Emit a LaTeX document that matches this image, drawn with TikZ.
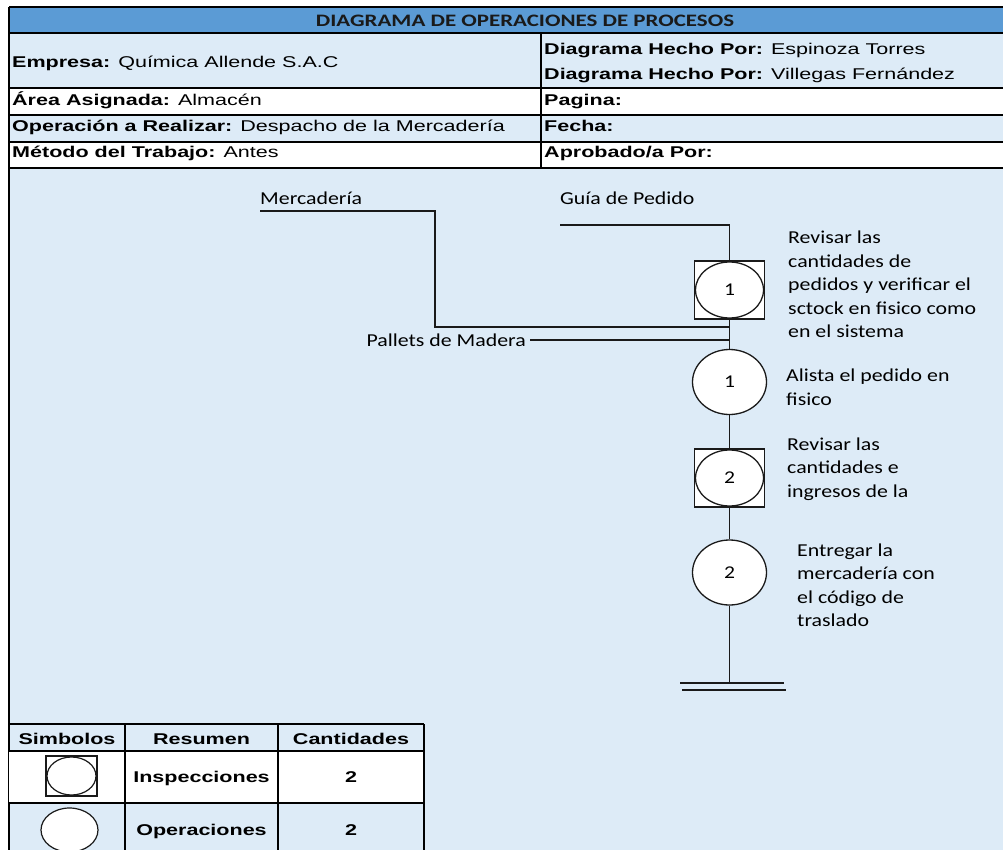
\documentclass[tikz,border=0pt]{standalone}
\usepackage{fontspec}
\setmainfont{Liberation Sans}
\newfontfamily\titlefont[FakeStretch=1.31]{Carlito}
\newfontfamily\cellfont[FakeStretch=1.38]{Liberation Sans}
\newfontfamily\notefont[FakeStretch=1.2]{Carlito}
\usetikzlibrary{shapes.geometric}
\definecolor{hdrblue}{HTML}{5B9BD5}
\definecolor{paleblue}{HTML}{DDEBF7}
\definecolor{ink}{HTML}{1A1A1A}

\begin{document}
\begin{tikzpicture}[x=1pt,y=-1pt,
  grid/.style={line width=1.8pt,draw=black},
  celltext/.style={anchor=base west,inner sep=0pt,font=\cellfont\fontsize{15.6}{18}\selectfont},
  tabtext/.style={anchor=base,inner sep=0pt,font=\cellfont\fontsize{15.6}{18}\selectfont\bfseries},
  note/.style={inner sep=0pt,font=\notefont\fontsize{18.2}{23.5}\selectfont},
  block/.style={note,anchor=north west,align=left},
  opnode/.style={ellipse,draw=ink,line width=1.3pt,fill=white,inner sep=0pt,
    minimum width=74pt,minimum height=65pt,font=\notefont\fontsize{18}{20}\selectfont},
  inspbox/.style={rectangle,draw=ink,line width=1.6pt,fill=white,inner sep=0pt,
    minimum width=70pt,minimum height=58pt},
  inspell/.style={ellipse,draw=ink,line width=1.3pt,inner sep=0pt,
    minimum width=68pt,minimum height=56pt,font=\notefont\fontsize{18}{20}\selectfont},
  flow/.style={draw=ink,line width=1.1pt}]

\path[use as bounding box] (0,0) rectangle (1003,850);

% ---- header table: cell fills
\fill[hdrblue]  (9,7)   rectangle (1003,33);
\fill[paleblue] (9,33)  rectangle (1003,88);
\fill[white]    (9,88)  rectangle (1003,115);
\fill[paleblue] (9,115) rectangle (1003,142);
\fill[white]    (9,142) rectangle (1003,168);
\fill[paleblue] (9,168) rectangle (1003,850);

% ---- header table: rules
\foreach \yy in {7,33,88,115,142,168}
  \draw[grid] (9,\yy) -- (1003,\yy);
\draw[grid] (9,7) -- (9,850);
\draw[grid] (541,33) -- (541,168);

% ---- header table: texts
\node[anchor=base,inner sep=0pt,font=\titlefont\fontsize{17.5}{20}\selectfont\bfseries,text=ink]
  (title) at (525,26.5) {DIAGRAMA DE OPERACIONES DE PROCESOS};
\node[celltext] (empresa) at (12,68)  {\textbf{Empresa:} Química Allende S.A.C};
\node[celltext] (autor1)  at (544,55) {\textbf{Diagrama Hecho Por:} Espinoza Torres};
\node[celltext] (autor2)  at (544,80) {\textbf{Diagrama Hecho Por:} Villegas Fernández};
\node[celltext] (area)    at (12,106) {\textbf{Área Asignada:} Almacén};
\node[celltext] (pagina)  at (544,106) {\textbf{Pagina:}};
\node[celltext] (oper)    at (12,132) {\textbf{Operación a Realizar:} Despacho de la Mercadería};
\node[celltext] (fecha)   at (544,132) {\textbf{Fecha:}};
\node[celltext] (metodo)  at (12,158) {\textbf{Método del Trabajo:} Antes};
\node[celltext] (aprob)   at (544,158) {\textbf{Aprobado/a Por:}};

% ---- process chart: symbols
\node[inspbox] (i1) at (729.5,290) {};
\node[inspell] (e1) at (i1.center) {1};
\node[opnode]  (o1) at (729.5,382) {1};
\node[inspbox] (i2) at (729.5,478) {};
\node[inspell] (e2) at (i2.center) {2};
\node[opnode]  (o2) at (729.5,572.5) {2};

% ---- process chart: inputs
\coordinate (mstart) at (260,211);
\coordinate (mbend)  at (435,327);
\coordinate (mjoin)  at (729.5,327);
\coordinate (gstart) at (560,225);
\coordinate (pstart) at (530,340);
\coordinate (pjoin)  at (729.5,340);
\coordinate (fin)    at (729.5,683);
\coordinate (fin1l)  at (680,683);
\coordinate (fin1r)  at (784,683);
\coordinate (fin2l)  at (682,690);
\coordinate (fin2r)  at (786,690);

\node[note,anchor=base west] (lmerc)  at (260,205) {Mercadería};
\node[note,anchor=base west] (lguia)  at (560,205) {Guía de Pedido};
\node[note,anchor=base east] (lpall)  at (526,346.5) {Pallets de Madera};

\draw[flow] (mstart) -| (mbend) -- (mjoin);
\draw[flow] (gstart) -| (i1.north);
\draw[flow] (pstart) -- (pjoin);
\draw[flow] (i1.south) -- (o1.north);
\draw[flow] (o1.south) -- (i2.north);
\draw[flow] (i2.south) -- (o2.north);
\draw[flow] (o2.south) -- (fin);
\draw[flow] (fin1l) -- (fin1r);
\draw[flow] (fin2l) -- (fin2r);

% ---- process chart: step descriptions
\node[block] (d1) at (788,226.9) {\strut Revisar las\\cantidades de\\pedidos y verificar el\\sctock en fisico como\\en el sistema};
\node[block] (d2) at (786,365.2) {\strut Alista el pedido en\\fisico};
\node[block] (d3) at (787,433.5) {\strut Revisar las\\cantidades e\\ingresos de la};
\node[block] (d4) at (797,539.5) {\strut Entregar la\\mercadería con\\el código de\\traslado};

% ---- summary table
\fill[white] (9,751) rectangle (424,803);
\foreach \yy in {724,751,803}
  \draw[grid] (9,\yy) -- (424,\yy);
\foreach \xx in {125,278,424}
  \draw[grid] (\xx,724) -- (\xx,850);

\node[tabtext] (hsim) at (67,744)    {Simbolos};
\node[tabtext] (hres) at (201.5,744) {Resumen};
\node[tabtext] (hcan) at (351,744)   {Cantidades};
\node[tabtext] (rins) at (201.5,782.5) {Inspecciones};
\node[tabtext] (cins) at (351,782.5)   {2};
\node[tabtext] (rope) at (201.5,835)   {Operaciones};
\node[tabtext] (cope) at (351,835)     {2};

\node[rectangle,draw=ink,line width=1.5pt,fill=white,minimum width=51pt,minimum height=40pt,inner sep=0pt]
  (sins) at (71.5,776) {};
\node[ellipse,draw=ink,line width=1.2pt,minimum width=49pt,minimum height=38pt,inner sep=0pt]
  (sinsell) at (sins.center) {};
\node[ellipse,draw=ink,line width=1.2pt,fill=white,minimum width=57pt,minimum height=44pt,inner sep=0pt]
  (sope) at (69.5,830) {};
\end{tikzpicture}
\end{document}
